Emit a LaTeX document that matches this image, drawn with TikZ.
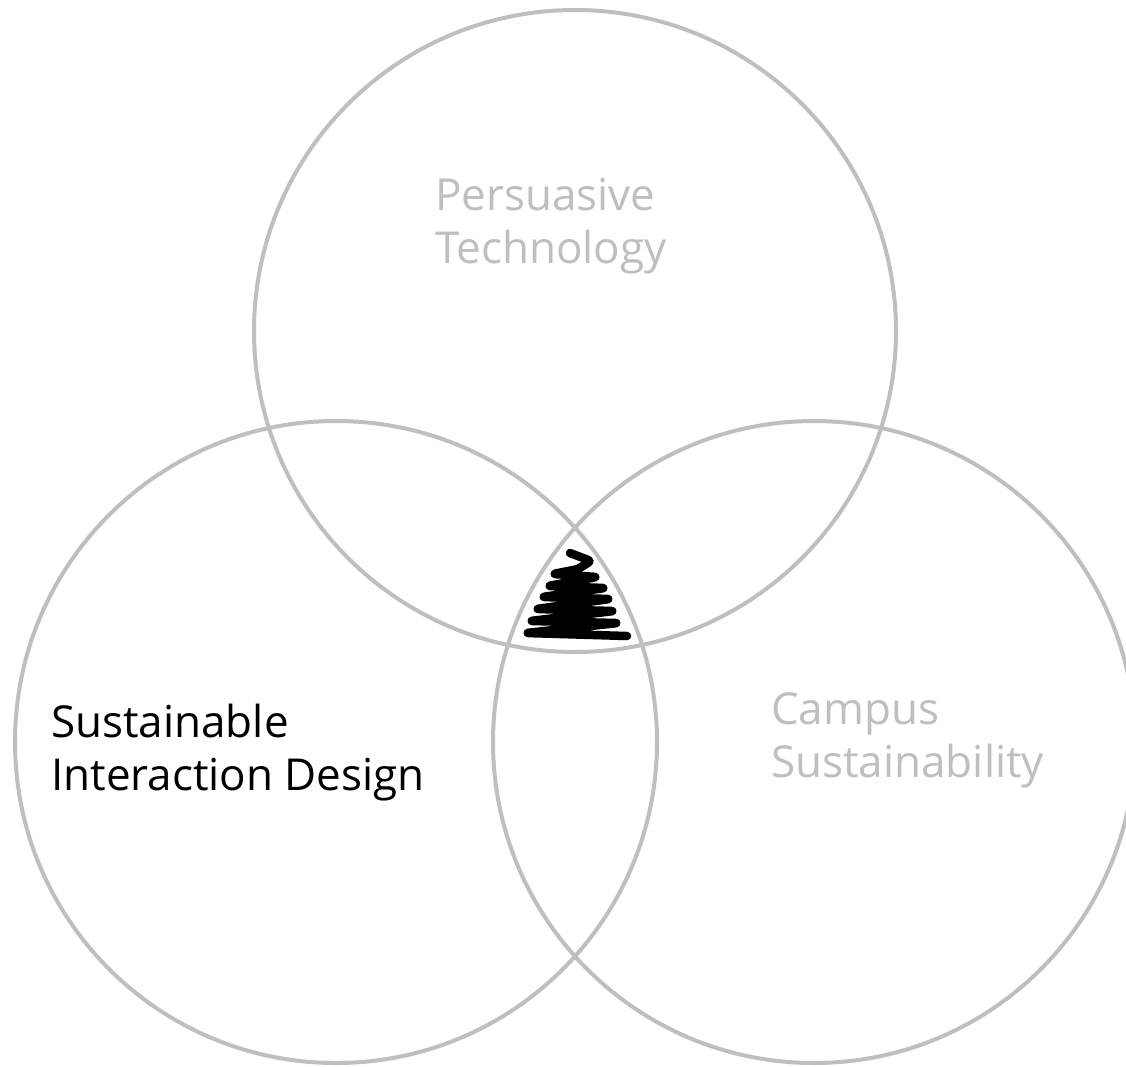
\documentclass[tikz,border=0pt]{standalone}
\usepackage{fontspec}
\setmainfont{Open Sans}
\begin{document}
\begin{tikzpicture}[x=1pt,y=-1pt,
  ring/.style={draw=circgray,line width=4pt},
  lbl/.style={anchor=north west,inner sep=0pt,align=left,font=\fontsize{44}{53}\selectfont},
  faint/.style={text=circgray}]
\definecolor{circgray}{HTML}{BFBFBF}
\useasboundingbox (0,0) rectangle (1126,1066);
\clip (0,0) rectangle (1126,1066);
\fill[white] (0,0) rectangle (1126,1066);
\node[ring,circle,minimum size=642pt,inner sep=0pt] (top) at (575,331) {};
\node[ring,circle,minimum size=642pt,inner sep=0pt] (left) at (336,742) {};
\node[ring,circle,minimum size=642pt,inner sep=0pt] (right) at (814,742) {};
\node[lbl,faint] (pt) at (435,178) {Persuasive\\Technology};
\node[lbl] (sid) at (51,704) {Sustainable\\Interaction Design};
\node[lbl,faint] (cs) at (771,692) {Campus\\Sustainability};
\draw[line width=8.5pt,line join=round,line cap=round,rounded corners=3pt]
  (570,553) -- (591,561) -- (578,569) -- (553,574) -- (597,577) -- (548,586)
  -- (605,588) -- (542,597) -- (610,599) -- (536,609) -- (614,611) -- (530,621)
  -- (618,623) -- (526,633) -- (627,636);
\end{tikzpicture}
\end{document}
